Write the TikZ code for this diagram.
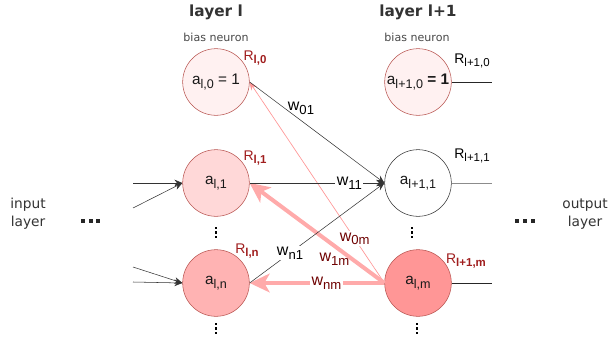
\documentclass[tikz,border=0pt]{standalone}
\usepackage{fontspec}
\setmainfont{Liberation Sans}
\newfontfamily\dejavu{DejaVu Sans}
\usetikzlibrary{arrows.meta}

\definecolor{nodeline}{RGB}{184,84,80}
\definecolor{pkzero}{RGB}{255,241,241}
\definecolor{pkone}{RGB}{255,216,216}
\definecolor{pkn}{RGB}{255,179,179}
\definecolor{pkm}{RGB}{255,150,150}
\definecolor{rlabel}{RGB}{160,30,30}
\definecolor{wlabel}{RGB}{110,0,0}
\definecolor{backline}{RGB}{255,170,170}
\definecolor{backthin}{RGB}{255,150,150}
\definecolor{headgray}{RGB}{51,51,51}

\newcommand{\sub}[1]{\raisebox{-0.45ex}{\scalebox{0.82}{#1}}}

\begin{document}
\begin{tikzpicture}[x=0.75pt,y=-0.75pt,
    neuron/.style={circle,draw=nodeline,minimum size=50pt,inner sep=0pt,
        font=\fontsize{11.5}{12}\selectfont,text=black!90},
    head/.style={font=\dejavu\bfseries\fontsize{11.5}{13}\selectfont,text=headgray},
    note/.style={font=\dejavu\fontsize{8.3}{10}\selectfont,text=headgray!90},
    side/.style={font=\dejavu\fontsize{10.3}{13.5}\selectfont,text=headgray,align=center},
    rname/.style={font=\fontsize{10.5}{11}\selectfont,inner sep=0pt},
    wname/.style={font=\fontsize{12}{13}\selectfont,inner sep=1pt},
    fwd/.style={draw=black!80,-{Stealth[length=6pt,width=5pt]}},
    back/.style={draw=backline,line width=3pt,-{Stealth[length=15pt,width=14pt,inset=4pt]}},
    backsmall/.style={draw=backthin,line width=0.5pt,-{Stealth[length=6pt,width=5pt]}}]
    \useasboundingbox (0,0) rectangle (616,339);

    % Headings
    \node[head] (headl) at (216,12) {layer l};
    \node[head] (headlp) at (418,12) {layer l+1};
    \node[note] (biasl) at (216,37) {bias neuron};
    \node[note] (biaslp) at (417,37) {bias neuron};
    \node[side] (inlayer) at (28,214) {input\\layer};
    \node[side] (outlayer) at (585,214) {output\\layer};

    % Neurons, layer l
    \node[neuron,fill=pkzero] (al0) at (216,82) {a\sub{l,0} = 1};
    \node[neuron,fill=pkone] (al1) at (216,183) {a\sub{l,1}};
    \node[neuron,fill=pkn] (aln) at (216,283) {a\sub{l,n}};
    % Neurons, layer l+1
    \node[neuron,fill=pkzero] (bl0) at (418,82) {a\sub{l+1,0} \textbf{= 1}};
    \node[neuron,draw=black!80,fill=white] (bl1) at (418,183) {a\sub{l+1,1}};
    \node[neuron,fill=pkm] (blm) at (418,283) {a\sub{l,m}};

    % R labels
    \node[rname,text=rlabel] (rl0) at (255,58) {R\sub{\textbf{l,0}}};
    \node[rname,text=rlabel] (rl1) at (255,158) {R\sub{\textbf{l,1}}};
    \node[rname,text=rlabel] (rln) at (247,251) {R\sub{\textbf{l,n}}};
    \node[rname] (rp0) at (472,61) {R\sub{l+1,0}};
    \node[rname] (rp1) at (472,156) {R\sub{l+1,1}};
    \node[rname,text=rlabel] (rpm) at (466,261) {R\sub{\textbf{l+1,m}}};

    % Dots
    \foreach \x in {216,412} {
        \foreach \y in {228,232.5,237} {
            \fill[black] (\x-1.2,\y-1.2) rectangle (\x+1.2,\y+1.2);
        }
    }
    \foreach \x in {216,417} {
        \foreach \y in {324,328.5,333} {
            \fill[black] (\x-1.2,\y-1.2) rectangle (\x+1.2,\y+1.2);
        }
    }
    \foreach \x in {83,91,98,517,525,533} {
        \fill[black!85] (\x-1.8,219) rectangle (\x+1.8,223);
    }

    % Inputs from the previous layer
    \coordinate (ina) at (133,183);
    \coordinate (inb) at (133,208);
    \coordinate (inc) at (133,267);
    \coordinate (ind) at (133,282);
    \foreach \c/\t in {ina/al1,inb/al1,inc/aln,ind/aln} {
        \draw[fwd] (\c) -- (\t.west);
    }

    % Backward pass (error terms)
    \draw[backsmall] (blm.west) -- node[wname,pos=0.22,fill=white,text=wlabel] (w0m) {w\sub{0m}} (al0.east);
    \draw[back] (blm.west) -- node[wname,pos=0.37,below=3pt,text=wlabel] (w1m) {w\sub{1m}} (al1.east);
    \draw[back] (blm.west) -- node[wname,pos=0.43,fill=white,text=wlabel] (wnm) {w\sub{nm}} (aln.east);

    % Forward pass
    \draw[fwd] (al0.east) -- (bl1.west);
    \node[wname] (w01) at (301,108) {w\sub{01}};
    \draw[fwd] (al1.east) -- node[wname,pos=0.74,fill=white] (w11) {w\sub{11}} (bl1.west);
    \draw[fwd] (aln.east) -- node[wname,pos=0.3,fill=white] (wn1) {w\sub{n1}} (bl1.west);

    % Outputs to the next layer
    \coordinate (outa) at (492,82);
    \coordinate (outb) at (492,183);
    \coordinate (outc) at (492,283);
    \draw[black!85] (bl0.east) -- (outa);
    \draw[black!45] (bl1.east) -- (outb);
    \draw[black!85] (blm.east) -- (outc);
\end{tikzpicture}
\end{document}
